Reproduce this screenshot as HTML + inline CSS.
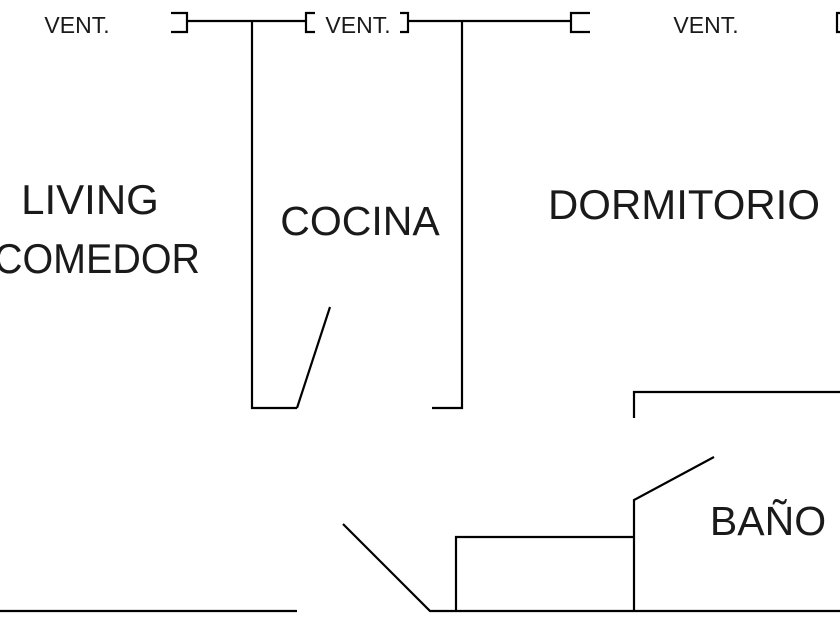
<!DOCTYPE html>
<html><head><meta charset="utf-8"><style>
html,body{margin:0;padding:0;background:#fff;width:840px;height:630px;overflow:hidden}
svg text{font-family:"Liberation Sans",sans-serif;fill:#1a1a1a}
</style></head><body>
<svg width="840" height="630" viewBox="0 0 840 630" xmlns="http://www.w3.org/2000/svg">
<g stroke="#000" stroke-width="2.2" fill="none">
<polyline points="171,13 187,13 187,32 171,32"/>
<line x1="187" y1="21" x2="306" y2="21"/>
<polyline points="315,13 306,13 306,32 315,32"/>
<polyline points="400,13 408,13 408,32 400,32"/>
<line x1="408" y1="21" x2="571" y2="21"/>
<polyline points="590,13 571,13 571,32 590,32"/>
<polyline points="845,13 837,13 837,32 845,32"/>
<polyline points="252,21 252,408 297,408"/>
<line x1="297" y1="408" x2="330" y2="307"/>
<polyline points="462,21 462,408 432,408"/>
<polyline points="634,418 634,392 840,392"/>
<polyline points="714,457 634,500 634,611"/>
<polyline points="456,611 456,537 634,537"/>
<line x1="0" y1="611" x2="297" y2="611"/>
<polyline points="343,524 430,611 840,611"/>
</g>
<text x="77" y="33" font-size="23" text-anchor="middle">VENT.</text>
<text x="358" y="33" font-size="23" text-anchor="middle">VENT.</text>
<text x="706" y="33" font-size="23" text-anchor="middle">VENT.</text>
<text x="90" y="214" font-size="42" text-anchor="middle">LIVING</text>
<text x="-6" y="273" font-size="42" textLength="206" lengthAdjust="spacingAndGlyphs">COMEDOR</text>
<text x="360" y="235" font-size="41" text-anchor="middle">COCINA</text>
<text x="548" y="219" font-size="42" textLength="272" lengthAdjust="spacingAndGlyphs">DORMITORIO</text>
<text x="768" y="535" font-size="41" text-anchor="middle">BAÑO</text>
</svg>
</body></html>
